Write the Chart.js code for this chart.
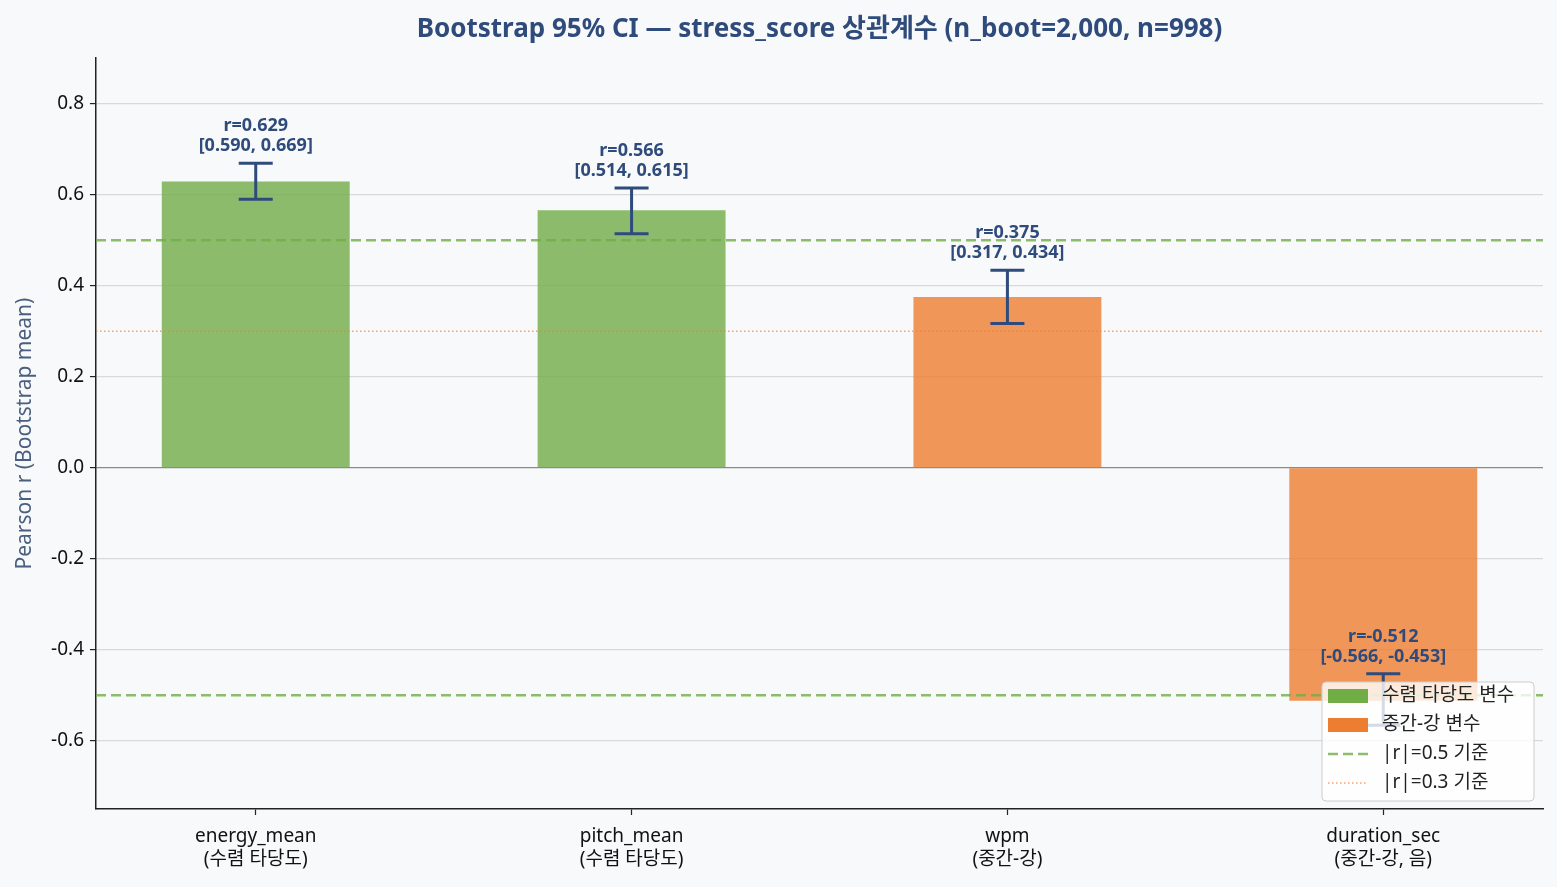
<!DOCTYPE html>
<html>
<head>
<meta charset="utf-8">
<script src="https://cdn.jsdelivr.net/npm/chart.js@4"></script>
<style>
  html,body{margin:0;padding:0;background:#f8f9fa;}
  #wrap{width:1557px;height:887px;position:relative;}
</style>
</head>
<body>
<div id="wrap"><canvas id="myChart"></canvas></div>
<script>
// data
const categories = [['energy_mean','(수렴 타당도)'],['pitch_mean','(수렴 타당도)'],['wpm','(중간-강)'],['duration_sec','(중간-강, 음)']];
const rValues = [0.629, 0.566, 0.375, -0.512];
const ciLow = [0.590, 0.514, 0.317, -0.566];
const ciHigh = [0.669, 0.615, 0.434, -0.453];
const groups = ['conv','conv','mid','mid'];
const yTicks = [-0.6,-0.4,-0.2,0.0,0.2,0.4,0.6,0.8];
const refStrong = 0.5;
const refMid = 0.3;

const FONT = "'Noto Sans','Noto Sans CJK KR',sans-serif";
const NAVY = '#2F4B7C';
const xMin = -0.425, xMax = 3.425;

function pts(g){
  var out = [];
  for (var i=0;i<rValues.length;i++){
    if (groups[i]==g) out.push({x:i, y:rValues[i]});
  }
  return out;
}
function hline(v){ return [{x:xMin,y:v},{x:xMax,y:v}]; }

const errorBars = {
  id:'errorBars',
  afterDatasetsDraw(chart){
    const ctx = chart.ctx, xs = chart.scales.x, ys = chart.scales.y;
    ctx.save();
    for (var i=0;i<rValues.length;i++){
      var x = xs.getPixelForValue(i);
      var yl = ys.getPixelForValue(ciLow[i]);
      var yh = ys.getPixelForValue(ciHigh[i]);
      ctx.strokeStyle = NAVY;
      ctx.lineWidth = 3;
      ctx.beginPath();
      ctx.moveTo(x,yl); ctx.lineTo(x,yh);
      ctx.moveTo(x-17,yl); ctx.lineTo(x+17,yl);
      ctx.moveTo(x-17,yh); ctx.lineTo(x+17,yh);
      ctx.stroke();
      ctx.fillStyle = NAVY;
      ctx.font = 'bold 18px ' + FONT;
      ctx.textAlign = 'center';
      ctx.textBaseline = 'middle';
      ctx.fillText('r=' + rValues[i].toFixed(3), x, yh-37);
      ctx.fillText('[' + ciLow[i].toFixed(3) + ', ' + ciHigh[i].toFixed(3) + ']', x, yh-17);
    }
    ctx.restore();
  }
};

const boxLegend = {
  id:'boxLegend',
  afterDraw(chart){
    const ctx = chart.ctx, a = chart.chartArea;
    const items = chart.data.datasets.filter(d => d.inLegend);
    const w = 212, h = 119;
    const x0 = a.right - 9 - w, y0 = a.bottom - 8 - h;
    ctx.save();
    ctx.beginPath();
    ctx.roundRect(x0, y0, w, h, 4);
    ctx.fillStyle = 'rgba(255,255,255,0.8)';
    ctx.fill();
    ctx.strokeStyle = '#cccccc';
    ctx.lineWidth = 1;
    ctx.stroke();
    items.forEach((d,k) => {
      var cy = y0 + 14 + k*29;
      var sx = x0 + 6;
      if (d.type === 'line'){
        ctx.strokeStyle = d.borderColor;
        ctx.lineWidth = d.borderWidth;
        ctx.setLineDash(d.borderDash);
        ctx.beginPath();
        ctx.moveTo(sx, cy); ctx.lineTo(sx+40, cy);
        ctx.stroke();
        ctx.setLineDash([]);
      } else {
        ctx.fillStyle = d.legendColor;
        ctx.fillRect(sx, cy-7, 40, 14);
      }
      ctx.fillStyle = '#222';
      ctx.font = '19px ' + FONT;
      ctx.textAlign = 'left';
      ctx.textBaseline = 'middle';
      ctx.fillText(d.label, sx + 54, cy);
    });
    ctx.restore();
  }
};

const ctx = document.getElementById('myChart').getContext('2d');
new Chart(ctx, {
  type:'bar',
  data:{
    datasets:[
      {label:'수렴 타당도 변수', data:pts('conv'), backgroundColor:'rgba(112,173,71,0.8)', legendColor:'#70AD47', grouped:false, barPercentage:0.5, categoryPercentage:1, order:2, inLegend:true},
      {label:'중간-강 변수', data:pts('mid'), backgroundColor:'rgba(237,125,49,0.8)', legendColor:'#ED7D31', grouped:false, barPercentage:0.5, categoryPercentage:1, order:2, inLegend:true},
      {type:'line', label:'|r|=0.5 기준', data:hline(refStrong), borderColor:'rgba(112,173,71,0.8)', borderWidth:2.5, borderDash:[10,5], pointRadius:0, order:1, inLegend:true},
      {type:'line', label:'|r|=0.3 기준', data:hline(refMid), borderColor:'rgba(237,125,49,0.7)', borderWidth:1.5, borderDash:[1.5,2.5], pointRadius:0, order:1, inLegend:true},
      {type:'line', label:'-0.5', data:hline(-refStrong), borderColor:'rgba(112,173,71,0.8)', borderWidth:2.5, borderDash:[10,5], pointRadius:0, order:1, inLegend:false}
    ]
  },
  options:{
    responsive:true,
    maintainAspectRatio:false,
    animation:false,
    layout:{padding:{left:0,right:14,top:0,bottom:0}},
    plugins:{
      legend:{display:false},
      tooltip:{enabled:false},
      title:{
        display:true,
        fullSize:false,
        text:'Bootstrap 95% CI — stress_score 상관계수 (n_boot=2,000, n=998)',
        color:NAVY,
        font:{family:FONT, size:26, weight:'bold'},
        padding:{top:14,bottom:13}
      }
    },
    scales:{
      x:{
        type:'linear',
        min:xMin, max:xMax,
        offset:false,
        afterBuildTicks: s => { s.ticks = categories.map((c,i)=>({value:i})); },
        afterFit: s => { s.height = 78; },
        ticks:{
          callback: v => categories[v],
          color:'#111',
          font:{family:FONT, size:19, lineHeight:1.2},
          padding:10,
          maxRotation:0, autoSkip:false
        },
        grid:{drawOnChartArea:false, offset:false, drawTicks:true, tickLength:6, tickColor:'#222', tickWidth:1.2},
        border:{display:true, color:'#222', width:1.5}
      },
      y:{
        min:-0.75, max:0.9,
        afterBuildTicks: s => { s.ticks = yTicks.map(v=>({value:v})); },
        afterFit: s => { s.width = 96; },
        ticks:{
          callback: v => v.toFixed(1),
          color:'#111',
          font:{family:FONT, size:19},
          padding:6
        },
        grid:{
          color: c => (c.tick && c.tick.value === 0) ? '#8a8a8a' : '#d9d9d9',
          lineWidth:1.2,
          tickLength:6, tickColor:'#222', tickWidth:1.2
        },
        border:{display:true, color:'#222', width:1.5},
        title:{display:true, text:'Pearson r (Bootstrap mean)', color:'#4A5F80', font:{family:FONT, size:21}, padding:{top:12,bottom:4}}
      }
    }
  },
  plugins:[errorBars, boxLegend]
});
</script>
</body>
</html>
